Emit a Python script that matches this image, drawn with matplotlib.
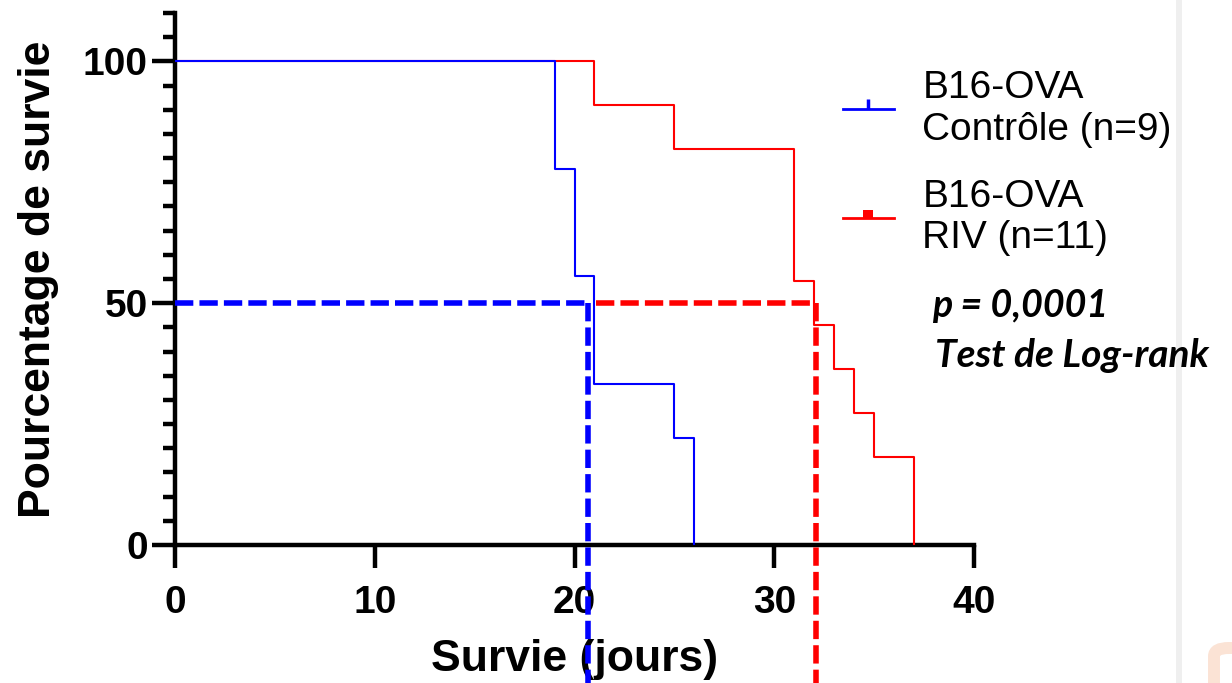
import matplotlib
matplotlib.use("Agg")
import matplotlib.pyplot as plt
from matplotlib.lines import Line2D
from matplotlib.patches import Rectangle, FancyBboxPatch
from matplotlib.ticker import MultipleLocator, FixedLocator

# donnees (Kaplan-Meier)
jours_ctrl = [0, 19, 20, 21, 25, 26]
survie_ctrl = [100, 77.8, 55.6, 33.3, 22.2, 0]

jours_riv = [0, 21, 25, 31, 32, 33, 34, 35, 37]
survie_riv = [100, 90.9, 81.8, 54.5, 45.5, 36.4, 27.3, 18.2, 0]

# medianes (lignes pointillees)
mediane_ctrl = 20.7
mediane_riv = 32.1
debut_riv = 21.1

labels = ["B16-OVA\nContrôle (n=9)", "B16-OVA\nRIV (n=11)"]
x_ticks = [0, 10, 20, 30, 40]
y_ticks = [0, 50, 100]

bleu = "#0000ff"
rouge = "#ff0000"

plt.rcParams["font.family"] = ["Liberation Sans", "DejaVu Sans"]

fig = plt.figure(figsize=(12.32, 6.83), dpi=100)
ax = fig.add_axes([175 / 1232, 1 - 545 / 683, 799 / 1232, 532 / 683])

# courbes de survie
ax.step(jours_riv, survie_riv, where="post", color=rouge, lw=1.5, zorder=3)
ax.step(jours_ctrl, survie_ctrl, where="post", color=bleu, lw=1.5, zorder=4)

# lignes des medianes
dash = dict(lw=4, dashes=(3.3, 1.1), dash_capstyle="butt", clip_on=False, zorder=5)
ax.plot([0, mediane_ctrl], [50, 50], color=bleu, **dash)
ax.plot([mediane_ctrl, mediane_ctrl], [50, -40], color=bleu, **dash)
ax.plot([debut_riv, mediane_riv], [50, 50], color=rouge, **dash)
ax.plot([mediane_riv, mediane_riv], [50, -40], color=rouge, **dash)

ax.set_xlim(0, 40)
ax.set_ylim(0, 110)
ax.xaxis.set_major_locator(FixedLocator(x_ticks))
ax.yaxis.set_major_locator(FixedLocator(y_ticks))
ax.yaxis.set_minor_locator(MultipleLocator(5))

for s in ["top", "right"]:
    ax.spines[s].set_visible(False)
for s in ["left", "bottom"]:
    ax.spines[s].set_linewidth(3.2)

ax.tick_params(axis="both", which="major", length=16.5, width=3.2,
               labelsize=28, direction="out")
ax.tick_params(axis="x", pad=12)
ax.tick_params(axis="y", pad=3)
ax.tick_params(axis="y", which="minor", length=8.5, width=3.2, direction="out")
for lab in ax.get_xticklabels() + ax.get_yticklabels():
    lab.set_fontweight("bold")

ax.set_xlabel("Survie (jours)", fontsize=32, fontweight="bold", labelpad=13)
ax.set_ylabel("Pourcentage de survie", fontsize=32, fontweight="bold", labelpad=17)

# legende
carre = [(-1, 0), (1, 0), (1, 1.5), (-1, 1.5), (-1, 0)]
h1 = Line2D([], [], color=bleu, lw=2, marker=2, markersize=7, mew=2.5)
h2 = Line2D([], [], color=rouge, lw=2, marker=carre, markersize=11, mew=0)
leg = ax.legend([h1, h2], labels, loc="upper left",
                bbox_to_anchor=(843 / 1232, 1 - 70 / 683),
                bbox_transform=fig.transFigure, frameon=False,
                fontsize=28, borderpad=0, borderaxespad=0, numpoints=1,
                handlelength=1.3, handletextpad=0.74, labelspacing=0.8)

fig.text(932 / 1232, 1 - 317 / 683, "p = 0,0001", fontsize=27,
         fontweight="bold", style="italic", family=["Lato", "DejaVu Sans"])
fig.text(935 / 1232, 1 - 367 / 683, "Test de Log-rank", fontsize=28,
         fontweight="bold", style="italic", family=["Lato", "DejaVu Sans"])

# bords de la capture d'ecran
fig.patches.append(Rectangle((1176 / 1232, 0), 6 / 1232, 1, transform=fig.transFigure,
                             facecolor="#efefef", edgecolor="none", zorder=0))
fig.patches.append(FancyBboxPatch((1214 / 1232, -0.2), 0.2, (683 - 648) / 683 + 0.2,
                                  boxstyle="round,pad=0,rounding_size=0.012",
                                  transform=fig.transFigure, facecolor="white",
                                  edgecolor="#fbe3d5", lw=8.6, zorder=0))

fig.savefig("out.png", dpi=100)
